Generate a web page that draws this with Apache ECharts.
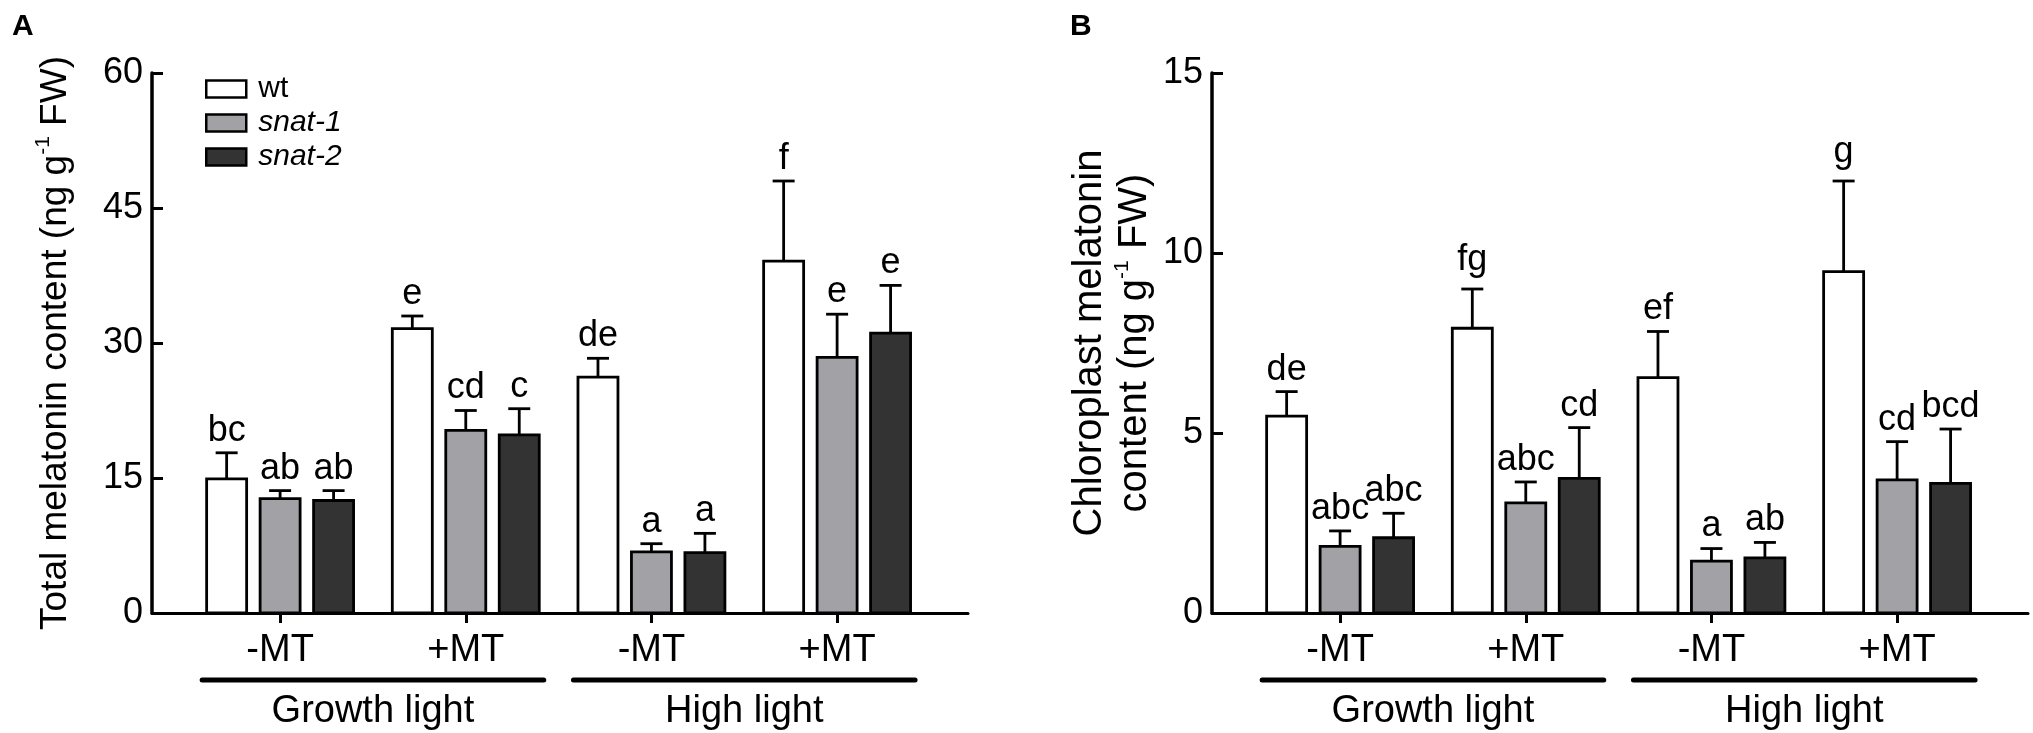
<!DOCTYPE html>
<html>
<head>
<meta charset="utf-8">
<script src="https://cdn.jsdelivr.net/npm/echarts@6.0.0/dist/echarts.min.js"></script>
<style>
  html, body { margin: 0; padding: 0; background: #fff; }
  #main { width: 2033px; height: 733px; }
</style>
</head>
<body>
<div id="main"></div>
<script>
// 处理条件 / 光照分组
var conds = ['-MT', '+MT', '-MT', '+MT'];
var lightGroups = ['Growth light', 'High light'];
var genotypes = ['wt', 'snat-1', 'snat-2'];
var barColors = ['#ffffff', '#a2a1a6', '#333333'];

// A: total melatonin (ng g-1 FW), mean and SE
var totalWt = [14.9, 31.6, 26.2, 39.1];
var totalWtSE = [2.9, 1.4, 2.1, 8.9];
var totalSnat1 = [12.7, 20.3, 6.8, 28.4];
var totalSnat1SE = [0.9, 2.2, 0.9, 4.8];
var totalSnat2 = [12.5, 19.8, 6.7, 31.1];
var totalSnat2SE = [1.1, 2.9, 2.15, 5.3];
var totalWtLetters = ['bc', 'e', 'de', 'f'];
var totalSnat1Letters = ['ab', 'cd', 'a', 'e'];
var totalSnat2Letters = ['ab', 'c', 'a', 'e'];
var totalTicks = [0, 60, 15]; // min, max, interval

// B: chloroplast melatonin
var chlWt = [5.47, 7.91, 6.54, 9.48];
var chlWtSE = [0.68, 1.09, 1.28, 2.52];
var chlSnat1 = [1.85, 3.06, 1.44, 3.70];
var chlSnat1SE = [0.43, 0.58, 0.35, 1.06];
var chlSnat2 = [2.09, 3.74, 1.53, 3.60];
var chlSnat2SE = [0.68, 1.41, 0.43, 1.51];
var chlWtLetters = ['de', 'fg', 'ef', 'g'];
var chlSnat1Letters = ['abc', 'abc', 'a', 'cd'];
var chlSnat2Letters = ['abc', 'cd', 'ab', 'bcd'];
var chlTicks = [0, 15, 5];

var FONT = "'Liberation Sans', Arial, Helvetica, sans-serif";
var barOffset = [-0.288, 0, 0.288];   // 组内柱子偏移 (axis units)

function barSeries(gi, k, means, ses, letters) {
    return {
        type: 'custom',
        name: genotypes[k],
        xAxisIndex: gi,
        yAxisIndex: gi,
        itemStyle: { color: barColors[k], borderColor: '#000', borderWidth: 2.5 },
        encode: { x: 0, y: 1 },
        data: means.map(function (m, i) { return [i, m, ses[i]]; }),
        renderItem: function (params, api) {
            var x = api.value(0) + barOffset[k];
            var m = api.value(1);
            var se = api.value(2);
            var p0 = api.coord([x, 0]);
            var pm = api.coord([x, m]);
            var pe = api.coord([x, m + se]);
            var txt = letters[params.dataIndex];
            // 带下伸部的字母 (g) 抬高一点，不压到误差线
            var lift = /[gjpqy]/.test(txt) ? 11 : 4;
            return {
                type: 'group',
                children: [
                    { type: 'line', shape: { x1: pm[0], y1: pm[1], x2: pe[0], y2: pe[1] }, style: { stroke: '#000', lineWidth: 2.8 } },
                    { type: 'line', shape: { x1: pe[0] - 11, y1: pe[1], x2: pe[0] + 11, y2: pe[1] }, style: { stroke: '#000', lineWidth: 2.8 } },
                    { type: 'rect', shape: { x: p0[0] - 20, y: pm[1], width: 40, height: p0[1] - pm[1] },
                      style: { fill: barColors[k], stroke: '#000', lineWidth: 2.8 } },
                    { type: 'text', x: pe[0], y: pe[1] - lift,
                      style: { text: txt, fontSize: 36, fontFamily: FONT, fill: '#000', align: 'center', verticalAlign: 'bottom' } }
                ]
            };
        }
    };
}

// Growth light / High light 横线
function bracketSeries(gi) {
    return {
        type: 'custom',
        xAxisIndex: gi,
        yAxisIndex: gi,
        silent: true,
        data: [[0, 1], [2, 3]],
        renderItem: function (params, api) {
            var a = api.coord([api.value(0) - 0.42, 0]);
            var b = api.coord([api.value(1) + 0.42, 0]);
            var y = a[1] + 67;
            return {
                type: 'group',
                children: [
                    { type: 'line', shape: { x1: a[0], y1: y, x2: b[0], y2: y }, style: { stroke: '#000', lineWidth: 5, lineCap: 'round' } },
                    { type: 'text', x: (a[0] + b[0]) / 2, y: y + 32,
                      style: { text: lightGroups[params.dataIndex], fontSize: 38, fontFamily: FONT, fill: '#000', align: 'center', verticalAlign: 'middle' } }
                ]
            };
        }
    };
}

function xAxis(gi) {
    return {
        gridIndex: gi,
        type: 'value',
        min: -0.69,
        max: 3.705,
        axisLine: { show: true, onZero: false, lineStyle: { color: '#000', width: 3 } },
        axisTick: { show: true, customValues: [0, 1, 2, 3], length: 10, lineStyle: { color: '#000', width: 3 } },
        axisLabel: { customValues: [0, 1, 2, 3], formatter: function (v) { return conds[v]; },
                     fontSize: 38, fontFamily: FONT, color: '#000', margin: 19 },
        splitLine: { show: false }
    };
}

function yAxis(gi, ticks, name, gap, nameSize) {
    return {
        gridIndex: gi,
        type: 'value',
        min: ticks[0],
        max: ticks[1],
        interval: ticks[2],
        axisLine: { show: true, onZero: false, lineStyle: { color: '#000', width: 3.5 } },
        axisTick: { show: true, inside: true, length: 11, lineStyle: { color: '#000', width: 3 } },
        axisLabel: { fontSize: 36, fontFamily: FONT, color: '#000', margin: 9 },
        splitLine: { show: false },
        name: name,
        nameLocation: 'middle',
        nameRotate: 90,
        nameGap: gap,
        nameTextStyle: {
            fontFamily: FONT,
            color: '#000',
            rich: {
                n: { fontSize: nameSize, fontFamily: FONT, color: '#000', lineHeight: 45 },
                sup: { fontSize: 21, fontFamily: FONT, color: '#000', verticalAlign: 'top', lineHeight: 45 }
            }
        }
    };
}

var myChart = echarts.init(document.getElementById('main'), null, { renderer: 'canvas' });

var option = {
    animation: false,
    backgroundColor: '#fff',
    title: [
        { text: 'A', left: 7, top: 7, textStyle: { fontSize: 30, fontWeight: 'bold', fontFamily: FONT, color: '#000' } },
        { text: 'B', left: 1065, top: 7, textStyle: { fontSize: 30, fontWeight: 'bold', fontFamily: FONT, color: '#000' } }
    ],
    legend: {
        left: 205,
        top: 74,
        orient: 'vertical',
        padding: 0,
        itemWidth: 40,
        itemHeight: 17,
        itemGap: 4,
        selectedMode: false,
        textStyle: { fontSize: 30, fontFamily: FONT, color: '#000', padding: [0, 0, 0, 7], lineHeight: 20 },
        data: genotypes.map(function (g, i) {
            return {
                name: g,
                icon: 'rect',
                itemStyle: { color: barColors[i], borderColor: '#000', borderWidth: 2.5 },
                textStyle: i ? { fontStyle: 'italic' } : {}
            };
        })
    },
    grid: [
        { left: 152, top: 73, width: 816, height: 540 },
        { left: 1212, top: 73, width: 816, height: 540 }
    ],
    xAxis: [xAxis(0), xAxis(1)],
    yAxis: [
        yAxis(0, totalTicks, '{n|Total melatonin content (ng g}{sup|-1}{n| FW)}', 74, 37),
        yAxis(1, chlTicks, '{n|Chloroplast melatonin}\n{n|content (ng g}{sup|-1}{n| FW)}', 55, 40)
    ],
    series: [
        barSeries(0, 0, totalWt, totalWtSE, totalWtLetters),
        barSeries(0, 1, totalSnat1, totalSnat1SE, totalSnat1Letters),
        barSeries(0, 2, totalSnat2, totalSnat2SE, totalSnat2Letters),
        barSeries(1, 0, chlWt, chlWtSE, chlWtLetters),
        barSeries(1, 1, chlSnat1, chlSnat1SE, chlSnat1Letters),
        barSeries(1, 2, chlSnat2, chlSnat2SE, chlSnat2Letters),
        bracketSeries(0),
        bracketSeries(1)
    ]
};
myChart.setOption(option);
window.onresize = myChart.resize;
</script>
</body>
</html>
